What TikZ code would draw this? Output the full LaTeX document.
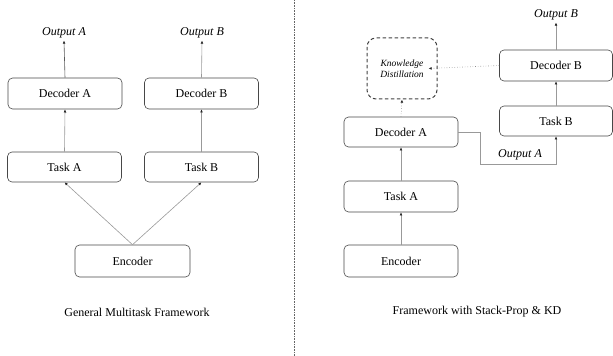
\documentclass[tikz,border=0pt]{standalone}
\usepackage{fontspec}
\setmainfont{Liberation Serif}
\usetikzlibrary{arrows.meta,calc}
\begin{document}
\begin{tikzpicture}[x=1pt,y=1pt,
  box/.style={draw=black!72, line width=0.6pt, rounded corners=4.5pt, minimum width=114pt, minimum height=31pt, inner sep=0pt, font=\fontsize{12}{14}\selectfont},
  lbl/.style={font=\fontsize{12}{14}\selectfont\itshape, inner sep=2pt},
  captxt/.style={font=\fontsize{12}{14}\selectfont},
  arr/.style={draw=black!40, line width=0.6pt, -{Latex[length=3.2pt,width=2.8pt,color=black!85]}},
  darr/.style={arr, draw=black!65},
  kdarr/.style={arr, dotted, draw=black!45},
  kdbox/.style={draw=black!75, line width=1pt, dashed, dash pattern=on 3.5pt off 2.5pt, rounded corners=9pt, minimum width=70pt, minimum height=61pt, align=center, inner sep=0pt, font=\fontsize{9.5}{11}\selectfont\itshape}
]
\useasboundingbox (0,0) rectangle (613,356);
% ---------- left panel ----------
\node[lbl] (outA) at (64,323) {Output A};
\node[lbl] (outB) at (202,323) {Output B};
\node[box] (decA) at (65,262.5) {Decoder A};
\node[box] (decB) at (201.5,262.5) {Decoder B};
\node[box, minimum height=30pt] (taskA) at (64.5,189) {Task A};
\node[box, minimum height=30pt] (taskB) at (201.5,189) {Task B};
\node[box, minimum width=115pt, minimum height=32pt] (enc) at (132.5,95) {Encoder};
\node[captxt] (capL) at (137,44) {General Multitask Framework};
\draw[darr] (decA.north) -- (outA.south);
\draw[arr] (decB.north) -- (outB.south);
\draw[arr] (taskA.north) -- (decA.south);
\draw[arr] (taskB.north) -- (decB.south);
\draw[arr] (enc.north) -- (taskA.south);
\draw[arr] (enc.north) -- (taskB.south);
% ---------- divider ----------
\coordinate (dtop) at (294,356);
\coordinate (dbot) at (294,0);
\draw[black!60, densely dotted, line width=0.6pt] (dtop) -- (dbot);
% ---------- right panel ----------
\node[lbl] (outB2) at (556,341) {Output B};
\node[box, minimum width=113pt] (decB2) at (556,290.5) {Decoder B};
\node[box, minimum width=113pt, minimum height=30pt] (taskB2) at (556,235) {Task B};
\node[kdbox] (kd) at (402,287.5) {Knowledge\\Distillation};
\node[box, minimum height=30pt] (decA2) at (401,224) {Decoder A};
\node[box] (taskA2) at (401,159.5) {Task A};
\node[box, minimum height=32pt] (enc2) at (401,95) {Encoder};
\node[captxt] (capR) at (477,44) {Framework with Stack-Prop \& KD};
\coordinate (c1) at (480,192);
\node[lbl] (outA2) at (520,201) {Output A};
\draw[arr] (decB2.north) -- (outB2.south);
\draw[arr] (taskB2.north) -- (decB2.south);
\draw[arr] (decA2.east) -| (c1) -| (taskB2.south);
\draw[arr] (taskA2.north) -- (decA2.south);
\draw[arr] (enc2.north) -- (taskA2.south);
\draw[kdarr] (decA2.north) -- (kd.south);
\draw[kdarr] (decB2.west) -- ([xshift=-9pt]kd.east);
\end{tikzpicture}
\end{document}
